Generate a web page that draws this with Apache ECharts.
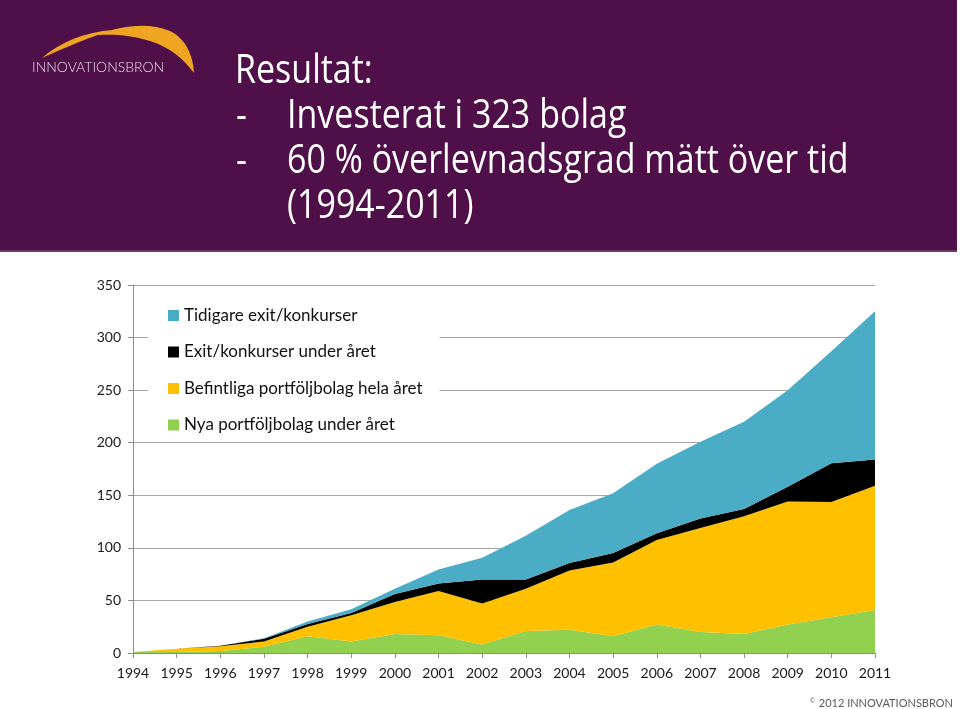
<!DOCTYPE html>
<html>
<head>
<meta charset="utf-8">
<script src="https://cdn.jsdelivr.net/npm/echarts@6/dist/echarts.min.js"></script>
<style>
html,body{margin:0;padding:0;background:#fff;}
#chart{width:960px;height:709px;}
</style>
</head>
<body>
<div id="chart"></div>
<script>
var years = ['1994','1995','1996','1997','1998','1999','2000','2001','2002','2003','2004','2005','2006','2007','2008','2009','2010','2011'];
var nyaPortfoljbolag = [1,1,2,6,16,11,18,17,8,21,22,16,27,20,18,27,34,41];
var befintligaPortfoljbolag = [0,3,4.5,5,9,25,30.5,42,39,40,56.5,70,80.5,99,112,117,109.5,118];
var exitUnderAret = [0,0,0.5,2.5,2.5,2,7.5,7,23,9,7,9,6.5,9,7,14,37,25];
var tidigareExit = [0,0,0,0.5,2.5,3.5,5,13.5,20.5,41.5,50.5,57,66,73,83,92,106.5,141];
var yTicks = [0,50,100,150,200,250,300,350];

var names = {
  blue: 'Tidigare exit/konkurser',
  black: 'Exit/konkurser under året',
  yellow: 'Befintliga portföljbolag hela året',
  green: 'Nya portföljbolag under året'
};

var LogoArc = echarts.graphic.extendPath(
  'M98 35 C120 25 150 22 170 31 C186 39 193 55 194 73 C184 60 172 48 150 41 C130 35 115 34 98 35 Z ' +
  'M42 58 C60 42 85 32 113 30 C90 37 66 47 42 58 Z', {});
echarts.graphic.registerShape('logoArc', LogoArc);

function areaSeries(name, data, color) {
  return {
    name: name, type: 'line', stack: 'total', data: data,
    symbol: 'none', smooth: false,
    lineStyle: {width: 0, color: color},
    itemStyle: {color: color},
    areaStyle: {color: color, opacity: 1},
    emphasis: {disabled: true}
  };
}

var chart = echarts.init(document.getElementById('chart'));
var titleFont = '40px "Open Sans", sans-serif';
var sx = 0.85;
chart.setOption({
  animation: false,
  backgroundColor: '#ffffff',
  grid: {left: 133, right: 85, top: 285, bottom: 56, containLabel: false},
  legend: {
    orient: 'vertical', left: 148, top: 292,
    data: [names.blue, names.black, names.yellow, names.green],
    icon: 'rect', itemWidth: 11, itemHeight: 11, itemGap: 19.5,
    backgroundColor: '#ffffff',
    padding: [15, 17, 4, 20],
    selectedMode: false,
    textStyle: {fontFamily: 'Lato, sans-serif', fontSize: 17, color: '#111111'}
  },
  xAxis: {
    type: 'category', data: years, boundaryGap: false,
    axisLine: {show: true, lineStyle: {color: '#8c8c8c', width: 1}},
    axisTick: {show: true, length: 5, alignWithLabel: true, lineStyle: {color: '#8c8c8c'}},
    axisLabel: {fontFamily: 'Lato, sans-serif', fontSize: 14, color: '#1a1a1a', margin: 13, interval: 0},
    splitLine: {show: false}
  },
  yAxis: {
    type: 'value', min: 0, max: 350, interval: 50,
    axisLine: {show: true, lineStyle: {color: '#8c8c8c', width: 1}},
    axisTick: {show: true, length: 5, lineStyle: {color: '#8c8c8c'}},
    axisLabel: {fontFamily: 'Lato, sans-serif', fontSize: 14, color: '#1a1a1a', margin: 12,
      formatter: function(v){ return yTicks.indexOf(v) >= 0 ? String(v) : ''; }},
    splitLine: {show: true, lineStyle: {color: '#a6a6a6', width: 1}}
  },
  series: [
    areaSeries(names.green, nyaPortfoljbolag, '#92D050'),
    areaSeries(names.yellow, befintligaPortfoljbolag, '#FFC000'),
    areaSeries(names.black, exitUnderAret, '#000000'),
    areaSeries(names.blue, tidigareExit, '#4BACC6')
  ],
  graphic: [
    {type: 'rect', shape: {x: 0, y: 0, width: 957, height: 251}, style: {fill: '#4F0F48'}, z: 0},
    {type: 'rect', shape: {x: 0, y: 250, width: 957, height: 2}, style: {fill: '#6a3a64'}, z: 0},
    {type: 'logoArc', shape: {}, style: {fill: '#EFA422'}, z: 1},
    {type: 'text', x: 32, y: 67, style: {text: 'INNOVATIONSBRON', font: '300 14px Lato, sans-serif', fill: '#e9dbe8', verticalAlign: 'middle'}, z: 2},
    {type: 'text', x: 235, y: 72, scaleX: sx, style: {text: 'Resultat:', font: titleFont, fill: '#ffffff', verticalAlign: 'middle'}, z: 2},
    {type: 'text', x: 236, y: 117, scaleX: sx, style: {text: '-', font: titleFont, fill: '#ffffff', verticalAlign: 'middle'}, z: 2},
    {type: 'text', x: 287, y: 117, scaleX: sx, style: {text: 'Investerat i 323 bolag', font: titleFont, fill: '#ffffff', verticalAlign: 'middle'}, z: 2},
    {type: 'text', x: 236, y: 162, scaleX: sx, style: {text: '-', font: titleFont, fill: '#ffffff', verticalAlign: 'middle'}, z: 2},
    {type: 'text', x: 287, y: 162, scaleX: sx, style: {text: '60 % överlevnadsgrad mätt över tid', font: titleFont, fill: '#ffffff', verticalAlign: 'middle'}, z: 2},
    {type: 'text', x: 287, y: 207, scaleX: sx, style: {text: '(1994-2011)', font: titleFont, fill: '#ffffff', verticalAlign: 'middle'}, z: 2},
    {type: 'text', x: 953, y: 703, style: {
      text: '{c|©} 2012 INNOVATIONSBRON', font: '11px Lato, sans-serif', fill: '#5a5a5a', align: 'right', verticalAlign: 'middle',
      rich: {c: {fontSize: 7, fill: '#5a5a5a', verticalAlign: 'top', padding: [0, 1, 4, 0]}}
    }, z: 2}
  ]
});
</script>
</body>
</html>
